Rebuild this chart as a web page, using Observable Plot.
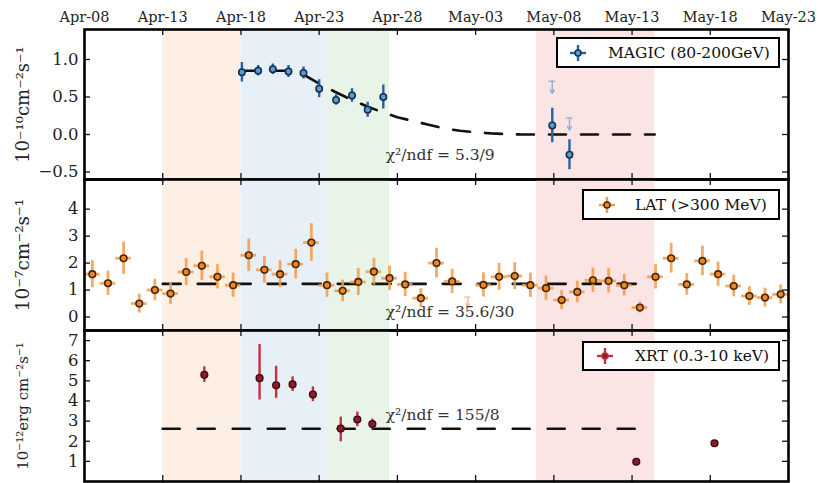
<!DOCTYPE html>
<html><head><meta charset="utf-8">
<script src="https://cdn.jsdelivr.net/npm/d3@7"></script>
<script src="https://cdn.jsdelivr.net/npm/@observablehq/plot@0.6"></script>
<style>
body{margin:0;background:#fff;}
#chart{position:relative;width:825px;height:483px;font-family:"DejaVu Serif",serif;overflow:hidden;}
#chart > svg{position:absolute;left:0;}
.legend{position:absolute;background:#fff;border:2.5px solid #000;box-sizing:border-box;}
.legend svg{position:absolute;top:50%;transform:translateY(-50%);}
.legend span{position:absolute;top:50%;transform:translateY(-52%);font-size:15.5px;white-space:nowrap;color:#111;}
</style></head><body><div id="chart"></div>
<script>
// ---------- data (time in MJD) ----------
const xDomainMJD = [57120, 57165];                       // Apr-08 .. May-23 (2015)
const xTickMJD = [57120, 57125, 57130, 57135, 57140, 57145, 57150, 57155, 57160, 57165];

const shadeStart = [57125, 57130, 57135.45, 57148.9];
const shadeEnd   = [57130, 57135.45, 57139.5, 57156.45];
const shadeColor = ["#fdefe3", "#e7eff7", "#e9f4e8", "#fbe4e4"];

// MAGIC (80-200 GeV), 1e-10 cm^-2 s^-1
const magicMJD  = [57130.06, 57131.1, 57132.04, 57133.04, 57134.0, 57135.0, 57136.08, 57137.1, 57138.1, 57139.1, 57149.9, 57151.0];
const magicFlux = [0.83, 0.85, 0.87, 0.84, 0.82, 0.61, 0.46, 0.52, 0.33, 0.50, 0.12, -0.27];
const magicErr  = [0.13, 0.07, 0.07, 0.08, 0.08, 0.12, 0.07, 0.09, 0.10, 0.16, 0.23, 0.20];
const magicUlMJD  = [57149.9, 57151.0];
const magicUlTop  = [0.71, 0.22];
const magicUlTip  = [0.55, 0.06];
const magicFitMJD  = [57130, 57133.5, 57134, 57135, 57136, 57137, 57138, 57139, 57140, 57141, 57142, 57143, 57144, 57145, 57146, 57147, 57148, 57156.45];
const magicFitFlux = [0.85, 0.85, 0.80, 0.68, 0.57, 0.47, 0.38, 0.30, 0.23, 0.18, 0.13, 0.08, 0.05, 0.03, 0.015, 0.005, 0, 0];

// Fermi-LAT (>300 MeV), 1e-7 cm^-2 s^-1, daily bins
const latMJD = [57120.5, 57121.5, 57122.5, 57123.5, 57124.5, 57125.5, 57126.5, 57127.5, 57128.5, 57129.5,
                57130.5, 57131.5, 57132.5, 57133.5, 57134.5, 57135.5, 57136.5, 57137.5, 57138.5, 57139.5,
                57140.5, 57141.5, 57142.5, 57143.5, 57145.5, 57146.5, 57147.5, 57148.5, 57149.5,
                57150.5, 57151.5, 57152.5, 57153.5, 57154.5, 57155.5, 57156.5, 57157.5, 57158.5, 57159.5,
                57160.5, 57161.5, 57162.5, 57163.5, 57164.5];
const latFlux = [1.59, 1.25, 2.18, 0.50, 1.00, 0.87, 1.67, 1.90, 1.49, 1.18,
                 2.29, 1.75, 1.59, 1.96, 2.76, 1.18, 0.97, 1.30, 1.68, 1.44,
                 1.21, 0.70, 2.00, 1.32, 1.19, 1.49, 1.52, 1.18, 1.07,
                 0.63, 0.93, 1.36, 1.34, 1.18, 0.35, 1.49, 2.18, 1.21, 2.08,
                 1.59, 1.15, 0.78, 0.72, 0.84];
const latErr = [0.50, 0.45, 0.60, 0.35, 0.40, 0.40, 0.50, 0.55, 0.45, 0.45,
                0.60, 0.50, 0.50, 0.55, 0.70, 0.45, 0.40, 0.50, 0.50, 0.45,
                0.45, 0.35, 0.55, 0.45, 0.45, 0.50, 0.50, 0.45, 0.45,
                0.35, 0.40, 0.45, 0.45, 0.40, 0.20, 0.45, 0.55, 0.40, 0.55,
                0.45, 0.40, 0.35, 0.35, 0.35];
const latBinHalf = 0.5;
const latUlMJD = [57144.5];
const latUlTop = [0.74];
const latUlTip = [0.38];
const latFitMJD  = [57125, 57156.3];
const latFitFlux = [1.23, 1.23];

// Swift-XRT (0.3-10 keV), 1e-12 erg cm^-2 s^-1
const xrtMJD  = [57127.66, 57131.19, 57132.25, 57133.3, 57134.6, 57136.38, 57137.44, 57138.4, 57155.27, 57160.27];
const xrtFlux = [5.30, 5.13, 4.78, 4.82, 4.32, 2.63, 3.08, 2.85, 0.98, 1.90];
const xrtLo   = [4.92, 4.05, 4.13, 4.47, 3.97, 1.97, 2.72, 2.60, 0.98, 1.90];
const xrtHi   = [5.70, 6.80, 5.72, 5.20, 4.70, 3.20, 3.45, 3.10, 0.98, 1.90];
const xrtFitMJD  = [57125, 57156.3];
const xrtFitFlux = [2.62, 2.62];

const fitLabels = ["χ²/ndf = 5.3/9", "χ²/ndf = 35.6/30", "χ²/ndf = 155/8"];
const fitLabelMJD = [57139.25, 57139.25, 57139.25];
const fitLabelY = [-0.27, 0.2, 3.3];

const yTicks1 = [-0.5, 0.0, 0.5, 1.0];
const yTicks2 = [0, 1, 2, 3, 4];
const yTicks3 = [1, 2, 3, 4, 5, 6, 7];
const yLabels = ["10⁻¹⁰cm⁻²s⁻¹", "10⁻⁷cm⁻²s⁻¹", "10⁻¹²erg cm⁻²s⁻¹"];
const legendLabels = ["MAGIC (80-200GeV)", "LAT (>300 MeV)", "XRT (0.3-10 keV)"];

// ---------- helpers ----------
const toDate = m => new Date((m - 40587) * 86400000);
const xDomain = xDomainMJD.map(toDate);
const xTicks = xTickMJD.map(toDate);
const shades = shadeStart.map((s, i) => ({s: toDate(s), e: toDate(shadeEnd[i]), c: shadeColor[i]}));
const W = 825, ML = 84, MR = 37;
const FW = W - ML - MR;
const chart = document.getElementById("chart");

function panel(cfg) {
  const fh = cfg.height - cfg.marginTop - cfg.marginBottom;
  const tickStyle = {stroke: "#111", strokeWidth: 1.3};
  const marks = [
    Plot.rect(shades, {x1: "s", x2: "e", fill: "c"}),
    ...cfg.marks,
    Plot.tickX(xTicks, {x: d => d, insetBottom: fh - 6, ...tickStyle}),
    Plot.tickX(xTicks, {x: d => d, insetTop: fh - 6, ...tickStyle}),
    Plot.tickY(cfg.yTicks, {y: d => d, insetRight: FW - 6, ...tickStyle}),
    Plot.tickY(cfg.yTicks, {y: d => d, insetLeft: FW - 6, ...tickStyle}),
    Plot.axisY({ticks: cfg.yTicks, tickSize: 0, tickPadding: 6, tickFormat: cfg.yFormat, fontSize: 16.5, label: null, fill: "#222"}),
    Plot.text([cfg.yLabel], {frameAnchor: "left", textAnchor: "middle", lineAnchor: "middle", rotate: -90, dx: -61, fontSize: cfg.yLabelSize, fill: "#222"}),
    Plot.text([cfg.fitIndex], {x: i => toDate(fitLabelMJD[i]), y: i => fitLabelY[i], text: i => fitLabels[i], textAnchor: "start", fontSize: 15.5, fill: "#333"}),
    Plot.frame({stroke: "#000", strokeWidth: 2.6})
  ];
  if (cfg.topAxis) marks.push(Plot.axisX({anchor: "top", ticks: xTicks, tickSize: 0, tickPadding: 8, tickFormat: d3.utcFormat("%b-%d"), fontSize: 14.5, fill: "#222"}));
  const svg = Plot.plot({
    width: W, height: cfg.height,
    marginLeft: ML, marginRight: MR, marginTop: cfg.marginTop, marginBottom: cfg.marginBottom,
    x: {type: "utc", domain: xDomain, axis: cfg.topAxis ? undefined : null},
    y: {domain: cfg.yDomain},
    color: {type: "identity"},
    style: {background: "transparent", fontFamily: "DejaVu Serif", overflow: "visible"},
    marks
  });
  svg.style.top = cfg.top + "px";
  chart.appendChild(svg);
}

// ---------- MAGIC panel ----------
const magicRows = magicMJD.map((m, i) => ({t: toDate(m), v: magicFlux[i], lo: magicFlux[i] - magicErr[i], hi: magicFlux[i] + magicErr[i]}));
const magicUl = magicUlMJD.map((m, i) => ({t: toDate(m), t0: toDate(m - 0.22), t1: toDate(m + 0.22), top: magicUlTop[i], tip: magicUlTip[i]}));
const magicFit = magicFitMJD.map((m, i) => ({t: toDate(m), v: magicFitFlux[i]}));
panel({
  top: 0, height: 182, marginTop: 29, marginBottom: 3,
  yDomain: [-0.6, 1.4], yTicks: yTicks1, yFormat: d3.format(".1f"),
  yLabel: yLabels[0], yLabelSize: 18, topAxis: true, fitIndex: 0,
  marks: [
    Plot.ruleY(magicUl, {y: "top", x1: "t0", x2: "t1", stroke: "#8fb3d6", strokeWidth: 1.3}),
    Plot.arrow(magicUl, {x1: "t", x2: "t", y1: "top", y2: "tip", stroke: "#8fb3d6", strokeWidth: 1.5, headLength: 6}),
    Plot.line(magicFit, {x: "t", y: "v", stroke: "#111", strokeWidth: 2.6, strokeDasharray: "17,15"}),
    Plot.ruleX(magicRows, {x: "t", y1: "lo", y2: "hi", stroke: "#2164a6", strokeWidth: 2.4}),
    Plot.dot(magicRows, {x: "t", y: "v", r: 3.2, fill: "#5a9bd0", stroke: "#16304e", strokeWidth: 1.6})
  ]
});

// ---------- LAT panel ----------
const latRows = latMJD.map((m, i) => ({t: toDate(m), t0: toDate(m - latBinHalf), t1: toDate(m + latBinHalf), v: latFlux[i], lo: latFlux[i] - latErr[i], hi: latFlux[i] + latErr[i]}));
const latUl = latUlMJD.map((m, i) => ({t: toDate(m), t0: toDate(m - 0.2), t1: toDate(m + 0.2), top: latUlTop[i], tip: latUlTip[i]}));
const latFit = latFitMJD.map((m, i) => ({t: toDate(m), v: latFitFlux[i]}));
panel({
  top: 176, height: 157, marginTop: 3, marginBottom: 3,
  yDomain: [-0.5, 5.1], yTicks: yTicks2, yFormat: d3.format("d"),
  yLabel: yLabels[1], yLabelSize: 18.5, topAxis: false, fitIndex: 1,
  marks: [
    Plot.line(latFit, {x: "t", y: "v", stroke: "#111", strokeWidth: 2.6, strokeDasharray: "18,17"}),
    Plot.ruleY(latUl, {y: "top", x1: "t0", x2: "t1", stroke: "#f6be8a", strokeWidth: 1.3}),
    Plot.arrow(latUl, {x1: "t", x2: "t", y1: "top", y2: "tip", stroke: "#f6be8a", strokeWidth: 1.5, headLength: 4}),
    Plot.ruleX(latRows, {x: "t", y1: "lo", y2: "hi", stroke: "#f59a45", strokeOpacity: 0.85, strokeWidth: 2.8}),
    Plot.ruleY(latRows, {y: "v", x1: "t0", x2: "t1", stroke: "#f59a45", strokeOpacity: 0.85, strokeWidth: 2.8}),
    Plot.dot(latRows, {x: "t", y: "v", r: 3.3, fill: "#e8892e", stroke: "#4a2608", strokeWidth: 1.6})
  ]
});

// ---------- XRT panel ----------
const xrtRows = xrtMJD.map((m, i) => ({t: toDate(m), v: xrtFlux[i], lo: xrtLo[i], hi: xrtHi[i]}));
const xrtFit = xrtFitMJD.map((m, i) => ({t: toDate(m), v: xrtFitFlux[i]}));
panel({
  top: 327, height: 156, marginTop: 3, marginBottom: 2,
  yDomain: [0, 7.5], yTicks: yTicks3, yFormat: d3.format("d"),
  yLabel: yLabels[2], yLabelSize: 15, topAxis: false, fitIndex: 2,
  marks: [
    Plot.line(xrtFit, {x: "t", y: "v", stroke: "#111", strokeWidth: 2.6, strokeDasharray: "17,18"}),
    Plot.ruleX(xrtRows, {x: "t", y1: "lo", y2: "hi", stroke: "#c23240", strokeWidth: 2.4}),
    Plot.dot(xrtRows, {x: "t", y: "v", r: 3.4, fill: "#8c1c28", stroke: "#3a0c12", strokeWidth: 1.4})
  ]
});

// ---------- legends ----------
const legendSpecs = [
  {left: 556, top: 37, width: 224, height: 31, mx: 22, tx: 52, bar: "#2164a6", fill: "#5a9bd0", edge: "#16304e"},
  {left: 582, top: 189, width: 198, height: 31, mx: 25, tx: 53, bar: "#f59a45", fill: "#e8892e", edge: "#4a2608"},
  {left: 582, top: 341, width: 198, height: 30, mx: 23, tx: 53, bar: "#c23240", fill: "#8c1c28", edge: "#c23240"}
];
legendSpecs.forEach((s, i) => {
  const box = document.createElement("div");
  box.className = "legend";
  Object.assign(box.style, {left: s.left + "px", top: s.top + "px", width: s.width + "px", height: s.height + "px"});
  box.innerHTML = `<svg width="20" height="20" style="left:${s.mx - 12}px" viewBox="-10 -10 20 20">
      <line x1="-8" x2="8" y1="0" y2="0" stroke="${s.bar}" stroke-width="2.4"/>
      <line x1="0" x2="0" y1="-8" y2="8" stroke="${s.bar}" stroke-width="2.4"/>
      <circle r="3" fill="${s.fill}" stroke="${s.edge}" stroke-width="1.5"/></svg>
    <span style="left:${s.tx - 2}px">${legendLabels[i].replace(">", "&gt;")}</span>`;
  chart.appendChild(box);
});
</script></body></html>
